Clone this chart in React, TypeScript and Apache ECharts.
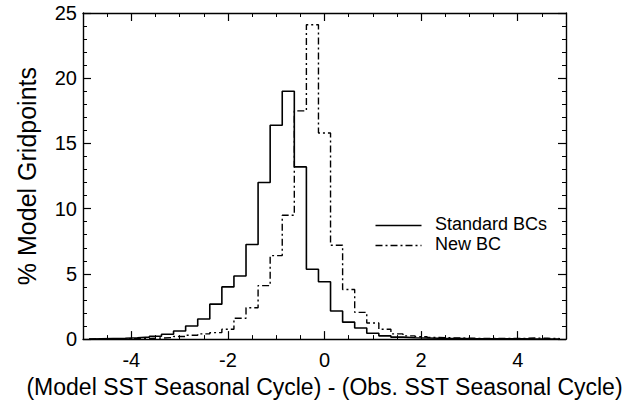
import React, { useEffect, useRef } from "react";
import * as echarts from "echarts";

// Bin centres (SST seasonal-cycle difference), bin width 0.25
const binCenters = [
  -4.75, -4.5, -4.25, -4.0, -3.75, -3.5, -3.25, -3.0, -2.75, -2.5, -2.25, -2.0, -1.75,
  -1.5, -1.25, -1.0, -0.75, -0.5, -0.25, 0.0, 0.25, 0.5, 0.75, 1.0, 1.25, 1.5, 1.75,
  2.0, 2.25, 2.5, 2.75, 3.0, 3.25, 3.5, 3.75, 4.0, 4.25, 4.5, 4.75,
];
const binWidth = 0.25;

// % model gridpoints
const standardBCs = [
  0.03, 0.05, 0.07, 0.1, 0.15, 0.22, 0.37, 0.62, 1.0, 1.54, 2.68, 4.0, 4.84,
  7.25, 12.0, 16.4, 19.0, 13.2, 5.35, 4.4, 2.16, 1.3, 0.85, 0.45, 0.25, 0.15, 0.1,
  0.08, 0.06, 0.05, 0.04, 0.03, 0.03, 0.02, 0.02, 0.02, 0.01, 0.01, 0.01,
];
const newBC = [
  0.01, 0.02, 0.02, 0.03, 0.05, 0.08, 0.12, 0.2, 0.3, 0.4, 0.5, 0.75, 1.6,
  2.4, 4.1, 6.4, 9.5, 17.5, 24.1, 15.8, 7.2, 3.8, 2.05, 1.24, 0.75, 0.4, 0.25,
  0.18, 0.12, 0.1, 0.08, 0.06, 0.05, 0.05, 0.04, 0.05, 0.08, 0.06, 0.04,
];

const xMajorTicks = [-4, -2, 0, 2, 4];
const seriesNames = ["Standard BCs", "New BC"];

function stepData(values: number[]) {
  const pts: number[][] = [];
  const first = binCenters[0] - binWidth / 2;
  pts.push([first, 0]);
  values.forEach((v, i) => pts.push([binCenters[i] - binWidth / 2, v]));
  const lastEdge = binCenters[binCenters.length - 1] + binWidth / 2;
  pts.push([lastEdge, values[values.length - 1]]);
  pts.push([lastEdge, 0]);
  return pts;
}

const FONT = "'Liberation Sans', Arial, Helvetica, sans-serif";
const INK = "#000";
const DASHDOT = [7, 3, 2, 3];

export default function App() {
  const ref = useRef<HTMLDivElement>(null);
  useEffect(() => {
    if (!ref.current) return;
    const chart = echarts.init(ref.current, undefined, { renderer: "svg" });
    const axisLine = { show: true, onZero: false, lineStyle: { color: INK, width: 1.4 } };
    const noLine = { show: false, onZero: false };
    const xBase = { type: "value" as const, min: -5, max: 5, splitLine: { show: false } };
    chart.setOption({
      animation: false,
      backgroundColor: "#fff",
      textStyle: { fontFamily: FONT },
      grid: { left: 83, right: 67, top: 13, bottom: 54, containLabel: false },
      xAxis: [
        {
          ...xBase,
          position: "bottom",
          interval: 1,
          name: "(Model SST Seasonal Cycle) - (Obs. SST Seasonal Cycle)",
          nameLocation: "middle",
          nameGap: 28,
          nameTextStyle: { fontSize: 23, color: INK, fontFamily: FONT },
          axisLine,
          axisTick: { show: true, inside: true, length: 8, customValues: xMajorTicks, lineStyle: { color: INK, width: 1.2 } },
          axisLabel: { show: true, customValues: xMajorTicks, fontSize: 20, color: INK, margin: 11, fontFamily: FONT },
        },
        {
          ...xBase,
          position: "bottom",
          interval: 0.5,
          axisLine: noLine,
          axisTick: { show: true, inside: true, length: 4, lineStyle: { color: INK, width: 1 } },
          axisLabel: { show: false },
        },
        {
          ...xBase,
          position: "top",
          interval: 1,
          axisLine,
          axisTick: { show: true, inside: true, length: 8, customValues: xMajorTicks, lineStyle: { color: INK, width: 1.2 } },
          axisLabel: { show: false },
        },
        {
          ...xBase,
          position: "top",
          interval: 0.5,
          axisLine: noLine,
          axisTick: { show: true, inside: true, length: 4, lineStyle: { color: INK, width: 1 } },
          axisLabel: { show: false },
        },
      ],
      yAxis: [
        {
          type: "value",
          position: "left",
          min: 0,
          max: 25,
          interval: 5,
          name: "% Model Gridpoints",
          nameLocation: "middle",
          nameGap: 44,
          nameTextStyle: { fontSize: 25, color: INK, fontFamily: FONT },
          axisLine,
          splitLine: { show: false },
          axisTick: { show: true, inside: true, length: 8, lineStyle: { color: INK, width: 1.2 } },
          minorTick: { show: true, splitNumber: 5, length: 4, lineStyle: { color: INK, width: 1 } },
          axisLabel: { show: true, fontSize: 20, color: INK, margin: 6, fontFamily: FONT },
        },
        {
          type: "value",
          position: "right",
          min: 0,
          max: 25,
          interval: 5,
          axisLine,
          splitLine: { show: false },
          axisTick: { show: true, inside: true, length: 8, lineStyle: { color: INK, width: 1.2 } },
          minorTick: { show: true, splitNumber: 5, length: 4, lineStyle: { color: INK, width: 1 } },
          axisLabel: { show: false },
        },
      ],
      graphic: [
        { type: "line", left: 373, top: 223, shape: { x1: 0, y1: 0, x2: 46, y2: 0 }, style: { stroke: INK, lineWidth: 1.6 } },
        { type: "text", left: 435, top: 215, style: { text: seriesNames[0], fontSize: 18, fill: INK, fontFamily: FONT } },
        { type: "line", left: 373, top: 243, shape: { x1: 0, y1: 0, x2: 46, y2: 0 }, style: { stroke: INK, lineWidth: 1.4, lineDash: DASHDOT } },
        { type: "text", left: 435, top: 235, style: { text: seriesNames[1], fontSize: 18, fill: INK, fontFamily: FONT } },
      ],
      series: [
        {
          name: seriesNames[0],
          type: "line",
          step: "end",
          xAxisIndex: 0,
          yAxisIndex: 0,
          symbol: "none",
          data: stepData(standardBCs),
          lineStyle: { color: INK, width: 1.6, type: "solid" },
          itemStyle: { color: INK },
          clip: true,
        },
        {
          name: seriesNames[1],
          type: "line",
          step: "end",
          xAxisIndex: 0,
          yAxisIndex: 0,
          symbol: "none",
          data: stepData(newBC),
          lineStyle: { color: INK, width: 1.4, type: DASHDOT },
          itemStyle: { color: INK },
          clip: true,
        },
      ],
    });
    return () => chart.dispose();
  }, []);
  return <div ref={ref} style={{ width: 633, height: 403, position: "absolute", left: 0, top: 0 }} />;
}
